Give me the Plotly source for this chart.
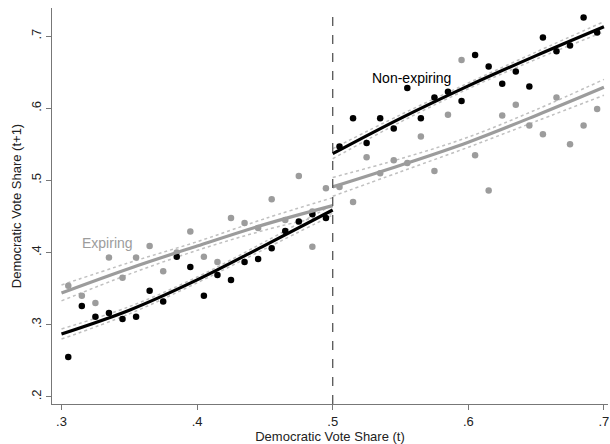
import plotly.graph_objects as go

# ---- binned scatter data ----
nonexp_left_x = [0.305, 0.315, 0.325, 0.335, 0.345, 0.355, 0.365, 0.375, 0.385, 0.395,
                 0.405, 0.415, 0.425, 0.435, 0.445, 0.455, 0.465, 0.475, 0.485, 0.495]
nonexp_left_y = [0.255, 0.326, 0.311, 0.316, 0.308, 0.311, 0.347, 0.332, 0.394, 0.380,
                 0.340, 0.369, 0.362, 0.387, 0.391, 0.406, 0.430, 0.443, 0.453, 0.448]
nonexp_right_x = [0.505, 0.515, 0.525, 0.535, 0.545, 0.555, 0.565, 0.575, 0.585, 0.595,
                  0.605, 0.615, 0.625, 0.635, 0.645, 0.655, 0.665, 0.675, 0.685, 0.695]
nonexp_right_y = [0.547, 0.586, 0.552, 0.586, 0.572, 0.628, 0.586, 0.615, 0.623, 0.610,
                  0.674, 0.658, 0.634, 0.651, 0.630, 0.698, 0.679, 0.687, 0.726, 0.705]

exp_left_x = [0.305, 0.315, 0.325, 0.335, 0.345, 0.355, 0.365, 0.375, 0.385, 0.395,
              0.405, 0.415, 0.425, 0.435, 0.445, 0.455, 0.465, 0.475, 0.485, 0.485, 0.495]
exp_left_y = [0.354, 0.340, 0.330, 0.393, 0.365, 0.393, 0.409, 0.374, 0.400, 0.429,
              0.394, 0.387, 0.448, 0.441, 0.434, 0.474, 0.445, 0.506, 0.408, 0.457, 0.489]
exp_right_x = [0.505, 0.515, 0.525, 0.535, 0.545, 0.555, 0.565, 0.575, 0.585, 0.595,
               0.605, 0.615, 0.625, 0.635, 0.645, 0.655, 0.665, 0.675, 0.685, 0.695]
exp_right_y = [0.491, 0.470, 0.532, 0.510, 0.528, 0.524, 0.561, 0.513, 0.591, 0.667,
               0.535, 0.486, 0.590, 0.605, 0.576, 0.564, 0.615, 0.550, 0.576, 0.599]

# ---- fitted polynomial lines and CI half-widths ----
fit_left_x = [0.30, 0.35, 0.40, 0.45, 0.50]
fit_right_x = [0.50, 0.55, 0.60, 0.65, 0.70]
nonexp_fit_left = [0.287, 0.320, 0.362, 0.410, 0.459]
nonexp_fit_right = [0.537, 0.586, 0.631, 0.673, 0.713]
exp_fit_left = [0.344, 0.378, 0.409, 0.439, 0.465]
exp_fit_right = [0.491, 0.521, 0.553, 0.590, 0.629]
nonexp_ci_left = [0.007, 0.005, 0.004, 0.005, 0.007]
nonexp_ci_right = [0.007, 0.005, 0.004, 0.005, 0.007]
exp_ci_left = [0.011, 0.008, 0.006, 0.008, 0.011]
exp_ci_right = [0.013, 0.009, 0.007, 0.008, 0.011]

y_ticks = [0.2, 0.3, 0.4, 0.5, 0.6, 0.7]
y_tick_labels = [".2", ".3", ".4", ".5", ".6", ".7"]
x_ticks = [0.3, 0.4, 0.5, 0.6, 0.7]
x_tick_labels = [".3", ".4", ".5", ".6", ".7"]

BLACK = "#000000"
GRAY = "#9c9c9c"
CI_GRAY = "#c0c0c0"
FONT = "Liberation Sans, Arial, sans-serif"

fig = go.Figure()

def add_ci(xs, ys, hw, color):
    for sgn in (1, -1):
        fig.add_trace(go.Scatter(
            x=xs, y=[y + sgn * h for y, h in zip(ys, hw)], mode="lines",
            line=dict(color=color, width=1.5, dash="dot", shape="spline"),
            showlegend=False, hoverinfo="skip"))

# CI bands
add_ci(fit_left_x, exp_fit_left, exp_ci_left, CI_GRAY)
add_ci(fit_right_x, exp_fit_right, exp_ci_right, CI_GRAY)
add_ci(fit_left_x, nonexp_fit_left, nonexp_ci_left, CI_GRAY)
add_ci(fit_right_x, nonexp_fit_right, nonexp_ci_right, CI_GRAY)

# Scatter points
for xs, ys, c in [(exp_left_x, exp_left_y, GRAY), (exp_right_x, exp_right_y, GRAY),
                  (nonexp_left_x, nonexp_left_y, BLACK), (nonexp_right_x, nonexp_right_y, BLACK)]:
    fig.add_trace(go.Scatter(x=xs, y=ys, mode="markers",
                             marker=dict(color=c, size=6.5, line=dict(width=0)),
                             showlegend=False))

# Fit lines
for xs, ys, c in [(fit_left_x, exp_fit_left, GRAY), (fit_right_x, exp_fit_right, GRAY),
                  (fit_left_x, nonexp_fit_left, BLACK), (fit_right_x, nonexp_fit_right, BLACK)]:
    fig.add_trace(go.Scatter(x=xs, y=ys, mode="lines",
                             line=dict(color=c, width=3.2, shape="spline"),
                             showlegend=False))

# cutoff line
fig.add_shape(type="line", x0=0.5, x1=0.5, y0=0, y1=1, xref="x", yref="paper",
              line=dict(color="#555555", width=1.3, dash="dash"))

fig.add_annotation(x=0.3135, y=0.4135, text="Expiring", showarrow=False,
                   xanchor="left", yanchor="middle",
                   font=dict(family=FONT, size=14, color=GRAY))
fig.add_annotation(x=0.5275, y=0.642, text="Non-expiring", showarrow=False,
                   xanchor="left", yanchor="middle",
                   font=dict(family=FONT, size=14, color=BLACK))

fig.update_layout(
    width=610, height=444,
    margin=dict(l=52, r=2, t=8, b=40),
    paper_bgcolor="white", plot_bgcolor="white",
    font=dict(family=FONT, size=13, color="#222222"),
    showlegend=False,
)
fig.update_xaxes(
    range=[0.293, 0.703], tickvals=x_ticks, ticktext=x_tick_labels,
    showgrid=False, zeroline=False, showline=True, linecolor="#777777", linewidth=1.3,
    ticks="outside", ticklen=5, tickcolor="#777777",
    title=dict(text="Democratic Vote Share (t)", standoff=2, font=dict(size=13)),
)
fig.update_yaxes(
    range=[0.190, 0.739], tickvals=y_ticks, ticktext=y_tick_labels, tickangle=-90,
    showgrid=False, zeroline=False, showline=True, linecolor="#777777", linewidth=1.3,
    ticks="outside", ticklen=5, tickcolor="#777777",
    title=dict(text="Democratic Vote Share (t+1)", standoff=4, font=dict(size=13)),
)

fig.write_html(
    "out.html",
    config={"displayModeBar": False},
    post_script="document.body.style.margin='0';document.body.style.overflow='hidden';"
                "document.documentElement.style.overflow='hidden';",
)
